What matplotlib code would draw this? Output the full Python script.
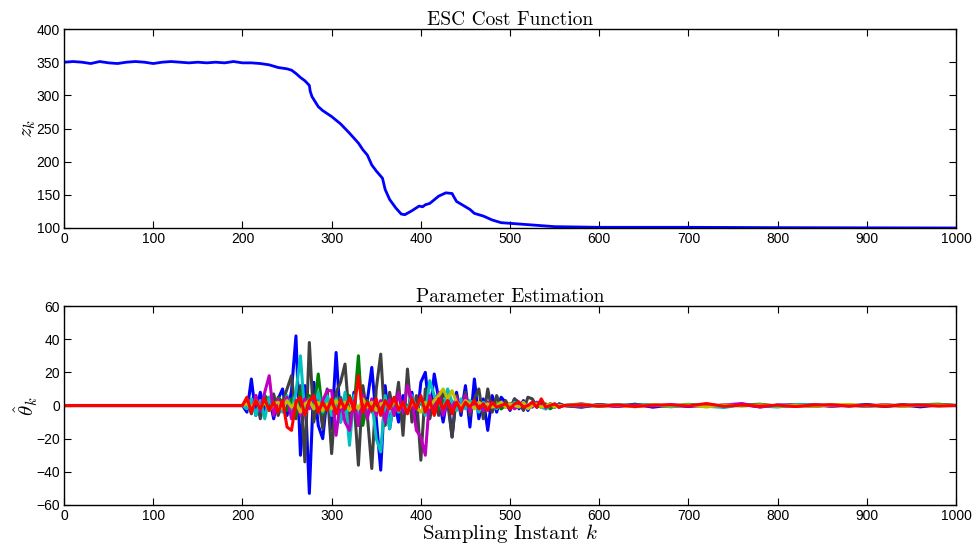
import numpy as np
import matplotlib
matplotlib.use("Agg")
import matplotlib.pyplot as plt

plt.rcParams['font.family'] = ['Liberation Sans', 'DejaVu Sans']
plt.rcParams['mathtext.fontset'] = 'cm'

# ESC cost function (top)
cost_k = [0, 10, 20, 30, 40, 50, 60, 70, 80, 90, 100, 110, 120, 130, 140, 150,
          160, 170, 180, 190, 200, 210, 220, 230, 240, 250, 255, 260, 265, 270,
          275, 276, 278, 285, 290, 300, 310, 320, 330, 335, 340, 345, 350, 357,
          360, 365, 372, 378, 382, 390, 398, 402, 405, 410, 420, 428, 435, 437,
          440, 445, 455, 460, 470, 480, 490, 500, 520, 540, 550, 600, 700, 800, 1000]
cost_z = [350, 351, 350, 348, 351, 349, 348, 350, 351, 350, 348, 350, 351, 350, 349, 350,
          349, 350, 349, 351, 349, 349, 348, 346, 342, 340, 338, 333, 327, 322,
          315, 306, 298, 283, 277, 268, 257, 243, 228, 218, 210, 195, 186, 175,
          158, 143, 130, 121, 120, 126, 133, 132, 135, 137, 148, 153, 152, 147,
          140, 136, 128, 122, 118, 112, 108, 107, 105, 103, 102, 101, 101, 100.5, 100]

# parameter estimates (bottom): k = 0, then 200..560 step 5, then 580..1000 step 20
k_main = list(range(200, 561, 5))
k_tail = list(range(580, 1001, 20))

blue = [0, -4, 16, -6, 8, -3, 5, -8, 4, 10,
        -6, 9, 42, -30, 12, -53, 14, -12, -20, 6,
        -14, 32, -10, 4, -16, 8, -12, 6, 3, 23,
        -8, -39, 12, -14, 4, -10, 6, -4, 8, -12,
        14, 20, -6, 19, 4, -10, 6, -19, 8, -6,
        12, -13, 16, -8, 4, -15, 6, -4, 5, 2,
        -3, 4, -2, 3, -3, 2, -1, 1, -2, 1,
        -1, 1, 0]
gray = [0, 3, -5, 6, -8, 4, -3, 7, -6, 2,
        10, 18, -8, 12, -34, 38, -10, 6, -14, 10,
        -29, 8, 14, 25, -10, 4, -36, 12, -6, -38,
        10, 31, -12, 8, -6, 14, -18, 22, -10, 6,
        -33, 10, -8, 4, -6, 8, 2, -19, 6, -4,
        8, -6, 4, 10, -8, 10, -4, 6, -2, 3,
        -2, 4, 2, -3, 5, 4, -1, 2, 0, 1,
        -1, 1, 0]
green = [0, 2, -3, 4, -2, 6, 3, -4, 5, 2,
         -3, 4, -6, 8, -4, 6, -2, 19, -5, 3,
         -4, 2, 5, -3, 6, -2, 30, -12, 3, -4,
         2, -3, 4, -2, 1, -3, 2, -1, 3, -2,
         2, -3, 4, 2, -2, 3, -1, 2, 0, -2,
         1, -1, 2, -2, 1, 0, -1, 1, -2, 0,
         1, -1, 0, 1, -1, 2, 0, -1, 1, -2,
         0, -1, 0]
red = [0, 5, -4, 3, -2, 4, -3, 2, -4, 3,
       -13, -15, 2, 5, -6, 3, 6, -4, 2, -3,
       4, -5, 3, -2, 5, -3, 18, -4, 2, -3,
       4, -6, 3, -2, 5, -3, 2, -5, 4, -2,
       6, -4, 3, -6, 4, -2, 3, -5, 2, -3,
       2, -1, 3, -2, 1, -3, 2, -1, 0, 1,
       -2, 1, 2, -1, 0, 2, -1, 4, -1, 0,
       1, -1, 0]
cyan = [0, -2, 4, -6, 3, -8, 5, -3, 2, -4,
        6, -3, 8, 30, -6, 4, -2, 8, -4, 6,
        -6, 4, -10, 8, -24, 6, -8, 4, -6, 3,
        -20, -28, 6, -14, 4, -4, 2, -3, 6, -2,
        4, -6, 15, 6, 3, -4, 10, 2, -3, 4,
        -2, 3, 1, -4, 2, 0, 1, -2, 1, 0,
        -1, 2, 0, 1, -1, 0, 2, -1, -2, 0,
        1, 0, 0]
magenta = [0, 3, -4, 6, -3, 8, 18, -6, 4, -2,
           5, -8, 3, -6, 4, -2, 6, -4, 3, 9,
           9, -18, 4, -10, -15, 3, -12, 6, -8, 4,
           -6, 3, -10, 4, -6, 8, -4, 12, 4, -15,
           -19, -30, 6, -4, 8, -6, 3, -2, 5, -3,
           6, -4, 2, 1, -3, 2, 0, -1, 2, -1,
           1, -2, 0, 1, 0, -1, 2, 0, -1, 1,
           0, -1, 0]
yellow = [0, 1, -2, 3, -1, 2, -3, 1, 2, -2,
          3, -1, 2, -4, 1, 3, -2, 2, -3, 1,
          -2, 3, -1, 2, -3, 1, -2, 4, -1, 2,
          -3, 1, 2, -2, 3, -1, 1, -4, 2, -1,
          -4, 2, -1, 3, 6, 10, 4, 9, 2, -1,
          3, 1, -2, 2, 0, 1, -1, 0, 2, -1,
          1, 0, -1, 2, -2, 0, 1, -1, 0, 1,
          -1, 0, 0]

tails = {
    'blue': [-1, 0.5, -0.5, 0.8, -1, 0.3, -0.6, 0.5, -0.3, 0.6, -0.8, 0.2, 0.5, -0.4, 0.3, -0.2, 0.6, -0.5, 0.3, -0.8, 0.4, 0],
    'gray': [1, -0.5, 0.6, -0.3, 0.4, -0.6, 0.2, 0.5, -0.4, 0.3, 0.8, -0.3, 0.2, -0.5, 0.4, -0.2, 0.3, -0.4, 0.5, -0.2, 0.3, 0],
    'green': [-0.8, 0.6, -0.3, 0.5, 0.2, -0.4, 0.7, -0.5, 0.3, -0.2, 0.4, -0.6, 0.3, 0.5, -0.3, 0.2, -0.4, 0.3, -0.2, 0.5, 0.8, 0],
    'red': [0.5, -0.4, 0.3, -0.6, 0.2, 0.4, -0.3, 1.2, -0.5, 0.3, -0.4, 0.2, -0.6, 0.3, 0.4, -0.3, 0.2, -0.4, 0.3, 0.2, -0.3, 0],
    'cyan': [0.3, -0.5, 0.4, -0.2, 0.6, -0.8, 0.3, -0.4, -1.2, 0.5, -0.3, -0.9, 0.4, 0.6, -0.2, 0.3, -0.5, 0.2, -0.3, 0.4, -0.2, 0],
    'magenta': [-0.4, 0.3, -0.6, 0.2, -0.3, 0.5, -0.2, -0.4, 0.3, 1.2, -0.9, 0.3, -0.6, 0.4, -0.5, 0.2, -0.3, 0.5, -0.4, 0.3, 0.2, 0],
    'yellow': [0.6, -0.3, 0.2, -0.8, 0.5, -0.2, 0.4, -0.9, 0.3, -0.2, 0.4, -0.3, 0.2, -0.5, 0.3, 0.6, -0.2, 0.3, -0.4, 0.2, 0.3, 0],
}

series = [('blue', blue, (0, 0, 1)),
          ('gray', gray, (0.25, 0.25, 0.25)),
          ('green', green, (0, 0.5, 0)),
          ('cyan', cyan, (0, 0.75, 0.75)),
          ('magenta', magenta, (0.75, 0, 0.75)),
          ('yellow', yellow, (0.75, 0.75, 0)),
          ('red', red, (1, 0, 0))]

fig = plt.figure(figsize=(9.76, 5.48), dpi=100)
ax1 = fig.add_axes([0.0656, 0.584, 0.914, 0.363])
ax2 = fig.add_axes([0.0656, 0.0785, 0.914, 0.363])

ax1.plot(cost_k, cost_z, color='b', lw=2.0)
ax1.set_xlim(0, 1000)
ax1.set_ylim(100, 400)
ax1.set_title('ESC Cost Function', family='cmr10', fontsize=14, pad=3)
ax1.set_ylabel('$z_k$', fontsize=15, labelpad=-1)

for name, vals, col in series:
    k_all = [0] + k_main + k_tail
    v_all = [0] + vals + tails[name]
    ax2.plot(k_all, v_all, color=col, lw=2.2)
ax2.set_xlim(0, 1000)
ax2.set_ylim(-60, 60)
ax2.set_title('Parameter Estimation', family='cmr10', fontsize=14, pad=3)
ax2.set_ylabel(r'$\hat{\theta}_k$', fontsize=15, labelpad=-3)
ax2.set_xlabel('Sampling Instant $k$', family='cmr10', fontsize=15, labelpad=-1)

for ax in (ax1, ax2):
    ax.set_xticks(range(0, 1001, 100))
    ax.tick_params(direction='in', top=True, right=True, length=5, labelsize=10, pad=3)
    for s in ax.spines.values():
        s.set_linewidth(1.0)

fig.savefig('out.png', dpi=100)
